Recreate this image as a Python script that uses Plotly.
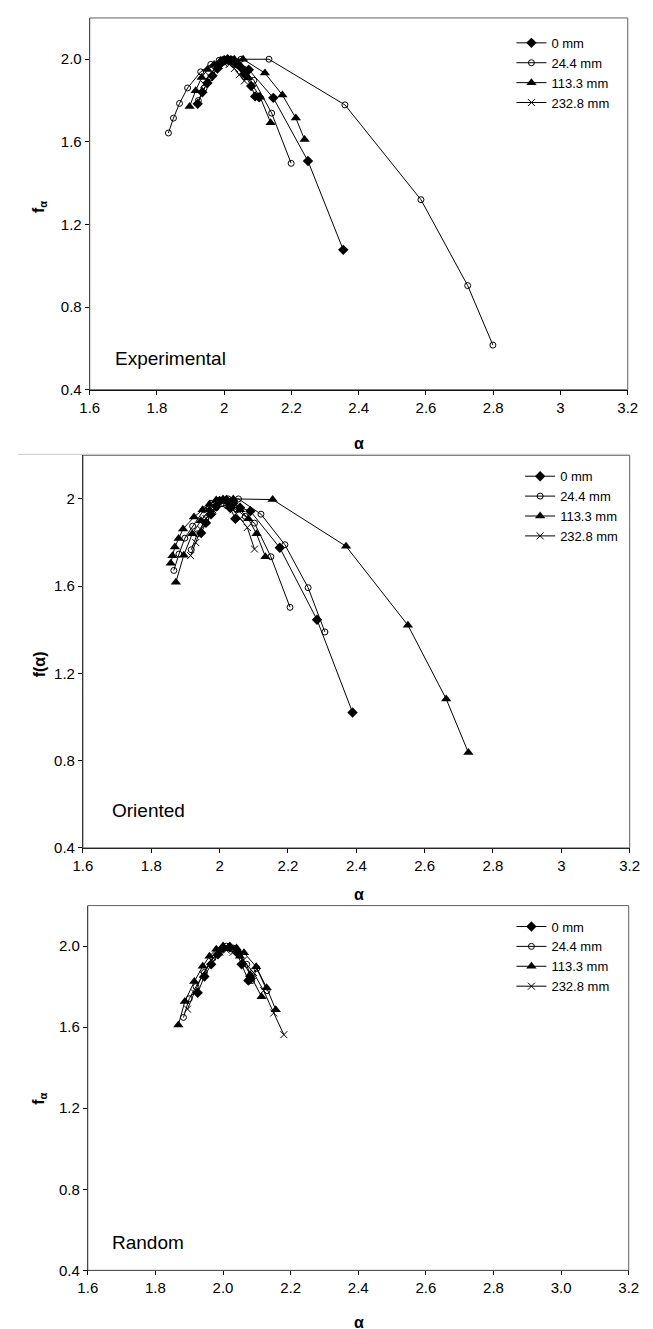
import plotly.graph_objects as go

# ---------------- data (alpha, f(alpha)) ----------------
series_names = ["0 mm", "24.4 mm", "113.3 mm", "232.8 mm"]

# Panel 1: Experimental
exp_0_a_x = [1.921, 1.935, 1.950, 1.965, 1.980, 1.990, 2.000, 2.010, 2.020, 2.035, 2.050, 2.073, 2.146, 2.249, 2.354]
exp_0_a_y = [1.784, 1.840, 1.885, 1.920, 1.955, 1.980, 1.995, 2.000, 1.995, 1.980, 1.960, 1.949, 1.813, 1.507, 1.077]
exp_0_b_x = [2.040, 2.060, 2.080, 2.092, 2.104]
exp_0_b_y = [1.975, 1.930, 1.870, 1.820, 1.816]

exp_24_a_x = [1.834, 1.849, 1.867, 1.891, 1.930, 1.960, 1.985, 2.000, 2.020, 2.050, 2.133, 2.359, 2.585, 2.724, 2.799]
exp_24_a_y = [1.643, 1.715, 1.786, 1.861, 1.939, 1.975, 1.995, 2.000, 2.000, 2.000, 2.000, 1.779, 1.320, 0.904, 0.616]
exp_24_b_x = [1.923, 1.940, 1.960, 1.980, 2.000, 2.030, 2.060, 2.088, 2.141, 2.199]
exp_24_b_y = [1.800, 1.860, 1.910, 1.960, 1.990, 1.980, 1.950, 1.898, 1.739, 1.496]

exp_113_a_x = [1.897, 1.915, 1.933, 1.950, 1.970, 1.990, 2.010, 2.030, 2.056, 2.121, 2.173, 2.213, 2.239]
exp_113_a_y = [1.771, 1.848, 1.912, 1.950, 1.975, 1.995, 2.000, 2.000, 2.000, 1.933, 1.827, 1.715, 1.611]
exp_113_b_x = [2.040, 2.070, 2.107, 2.138]
exp_113_b_y = [1.970, 1.910, 1.816, 1.693]

exp_232_x = [1.940, 1.955, 1.970, 1.985, 2.000, 2.015, 2.030, 2.045, 2.060]
exp_232_y = [1.880, 1.920, 1.950, 1.970, 1.980, 1.975, 1.955, 1.925, 1.895]

# Panel 2: Oriented
ori_0_a_x = [1.946, 1.960, 1.975, 1.990, 2.000, 2.020, 2.040, 2.060, 2.090, 2.176, 2.285, 2.389]
ori_0_a_y = [1.844, 1.890, 1.930, 1.965, 1.990, 1.995, 1.980, 1.960, 1.944, 1.776, 1.446, 1.021]
ori_0_b_x = [2.030, 2.046]
ori_0_b_y = [1.960, 1.909]

ori_24_a_x = [1.866, 1.881, 1.898, 1.921, 1.954, 1.975, 2.000, 2.025, 2.055, 2.121, 2.191, 2.259, 2.308]
ori_24_a_y = [1.672, 1.747, 1.820, 1.875, 1.950, 1.980, 1.995, 2.000, 2.000, 1.930, 1.790, 1.593, 1.390]
ori_24_b_x = [1.917, 1.935, 1.960, 1.990, 2.020, 2.050, 2.075, 2.102, 2.150, 2.206]
ori_24_b_y = [1.767, 1.840, 1.910, 1.960, 1.970, 1.950, 1.920, 1.889, 1.735, 1.503]

ori_113_a_x = [1.857, 1.862, 1.869, 1.880, 1.893, 1.925, 1.950, 1.970, 1.990, 2.010, 2.040, 2.155, 2.370, 2.551, 2.663, 2.728]
ori_113_a_y = [1.705, 1.740, 1.780, 1.818, 1.862, 1.917, 1.950, 1.975, 1.995, 2.000, 2.000, 1.997, 1.783, 1.421, 1.083, 0.837]
ori_113_b_x = [1.872, 1.895, 1.920, 1.945, 1.970, 2.000, 2.030, 2.060, 2.084, 2.108, 2.134]
ori_113_b_y = [1.618, 1.742, 1.840, 1.900, 1.950, 1.990, 1.975, 1.950, 1.909, 1.840, 1.735]

ori_232_x = [1.915, 1.930, 1.945, 1.960, 1.980, 2.000, 2.020, 2.040, 2.060, 2.081, 2.102]
ori_232_y = [1.740, 1.800, 1.860, 1.910, 1.950, 1.980, 1.980, 1.950, 1.910, 1.869, 1.770]

# Panel 3: Random
ran_0_x = [1.925, 1.945, 1.965, 1.985, 2.000, 2.020, 2.040, 2.055, 2.075, 2.082]
ran_0_y = [1.770, 1.850, 1.910, 1.960, 1.990, 1.995, 1.970, 1.910, 1.830, 1.840]

ran_24_x = [1.883, 1.900, 1.920, 1.945, 1.970, 1.990, 2.010, 2.030, 2.050, 2.070, 2.085, 2.100, 2.130]
ran_24_y = [1.648, 1.740, 1.800, 1.870, 1.940, 1.980, 2.000, 1.990, 1.960, 1.910, 1.830, 1.890, 1.780]

ran_113_a_x = [1.868, 1.887, 1.915, 1.940, 1.960, 1.980, 2.000, 2.020, 2.040, 2.062, 2.098, 2.129, 2.156]
ran_113_a_y = [1.611, 1.727, 1.825, 1.900, 1.950, 1.985, 2.000, 2.000, 1.990, 1.967, 1.898, 1.795, 1.686]
ran_113_b_x = [2.050, 2.080, 2.114]
ran_113_b_y = [1.950, 1.860, 1.750]

ran_232_x = [1.895, 1.915, 1.940, 1.965, 1.990, 2.010, 2.030, 2.060, 2.090, 2.120, 2.150, 2.180]
ran_232_y = [1.689, 1.770, 1.860, 1.930, 1.970, 1.980, 1.970, 1.930, 1.870, 1.780, 1.670, 1.563]

panel_titles = ["Experimental", "Oriented", "Random"]
y_titles = ["f<sub>α</sub>", "f(α)", "f<sub>α</sub>"]
x_title = "α"
x_tick_vals = [1.6, 1.8, 2.0, 2.2, 2.4, 2.6, 2.8, 3.0, 3.2]
y_tick_vals = [0.4, 0.8, 1.2, 1.6, 2.0]


def join(a, b):
    return a + [None] + b


panels = [
    [(join(exp_0_a_x, exp_0_b_x), join(exp_0_a_y, exp_0_b_y)),
     (join(exp_24_a_x, exp_24_b_x), join(exp_24_a_y, exp_24_b_y)),
     (join(exp_113_a_x, exp_113_b_x), join(exp_113_a_y, exp_113_b_y)),
     (exp_232_x, exp_232_y)],
    [(join(ori_0_a_x, ori_0_b_x), join(ori_0_a_y, ori_0_b_y)),
     (join(ori_24_a_x, ori_24_b_x), join(ori_24_a_y, ori_24_b_y)),
     (join(ori_113_a_x, ori_113_b_x), join(ori_113_a_y, ori_113_b_y)),
     (ori_232_x, ori_232_y)],
    [(ran_0_x, ran_0_y),
     (ran_24_x, ran_24_y),
     (join(ran_113_a_x, ran_113_b_x), join(ran_113_a_y, ran_113_b_y)),
     (ran_232_x, ran_232_y)],
]

# ---------------- styling ----------------
W, H = 653, 1329
FONT = "Liberation Sans, Arial, sans-serif"
markers = [
    dict(symbol="diamond", size=8, color="black"),
    dict(symbol="circle-open", size=6, color="black", line=dict(width=1, color="black")),
    dict(symbol="triangle-up", size=9, color="black"),
    dict(symbol="x-thin-open", size=7, color="black", line=dict(width=1, color="black")),
]
# plot areas in pixels: left, right, top, bottom
areas = [(74, 629, 10, 384), (67, 631, 450, 845), (72, 630, 903, 1270)]
legend_pos = [(509, 20), (518, 456), (509, 909)]
ann_pos = [(98, 353), (95, 807), (95, 1242)]
ytitle_pos = [(22, 200), (22, 660), (22, 1097)]
xtitle_pos = [(352, 438), (352, 892), (352, 1322)]
x_fmt = ["", "", ".1f"]
y_fmt = [".1f", "", ".1f"]


def px(x):
    return x / W


def py(y):
    return 1 - y / H


fig = go.Figure()
layout = dict(
    width=W, height=H, margin=dict(l=0, r=0, t=0, b=0),
    paper_bgcolor="white", plot_bgcolor="white",
    font=dict(family=FONT, size=13, color="black"),
    showlegend=True,
)
annotations = []
shapes = []

for p in range(3):
    xa = "xaxis" if p == 0 else f"xaxis{p+1}"
    ya = "yaxis" if p == 0 else f"yaxis{p+1}"
    xr = "x" if p == 0 else f"x{p+1}"
    yr = "y" if p == 0 else f"y{p+1}"
    lg = "legend" if p == 0 else f"legend{p+1}"
    l, r, t, b = areas[p]
    for s in range(4):
        xs, ys = panels[p][s]
        fig.add_trace(go.Scatter(
            x=xs, y=ys, mode="lines+markers", name=series_names[s],
            line=dict(color="black", width=1), marker=markers[s],
            xaxis=xr, yaxis=yr, legend=lg, connectgaps=False,
        ))
    common = dict(showgrid=False, zeroline=False, showline=True, linecolor="black",
                  linewidth=1, ticks="outside", ticklen=4, tickcolor="black",
                  tickfont=dict(size=15, family=FONT))
    layout[xa] = dict(domain=[px(l), px(r)], range=[1.6, 3.2], tickvals=x_tick_vals,
                      tickformat=x_fmt[p], anchor=yr, **common)
    layout[ya] = dict(domain=[py(b), py(t)], range=[0.4, 2.2], tickvals=y_tick_vals,
                      tickformat=y_fmt[p], anchor=xr, **common)
    lx, ly = legend_pos[p]
    layout[lg] = dict(x=px(lx), y=py(ly), xanchor="left", yanchor="top",
                      bgcolor="rgba(0,0,0,0)", font=dict(size=13, family=FONT),
                      itemwidth=30, tracegroupgap=0)
    shapes.append(dict(type="rect", xref="paper", yref="paper",
                       x0=px(l), x1=px(r), y0=py(b), y1=py(t),
                       line=dict(color="#606060", width=1)))
    ax, ay = ann_pos[p]
    annotations.append(dict(text=panel_titles[p], x=px(ax), y=py(ay), xref="paper", yref="paper",
                            xanchor="left", yanchor="middle", showarrow=False,
                            font=dict(size=19, family=FONT)))
    tx, ty = ytitle_pos[p]
    annotations.append(dict(text=f"<b>{y_titles[p]}</b>", x=px(tx), y=py(ty), xref="paper", yref="paper",
                            xanchor="center", yanchor="middle", showarrow=False, textangle=-90,
                            font=dict(size=16, family=FONT)))
    qx, qy = xtitle_pos[p]
    annotations.append(dict(text=f"<b>{x_title}</b>", x=px(qx), y=py(qy), xref="paper", yref="paper",
                            xanchor="center", yanchor="middle", showarrow=False,
                            font=dict(size=16, family=FONT)))

# light separator line under the first chart
shapes.append(dict(type="line", xref="paper", yref="paper", x0=0, x1=px(630), y0=py(449), y1=py(449),
                   line=dict(color="#c8c8c8", width=1)))

layout["annotations"] = annotations
layout["shapes"] = shapes
fig.update_layout(**layout)
fig.write_html("out.html")
